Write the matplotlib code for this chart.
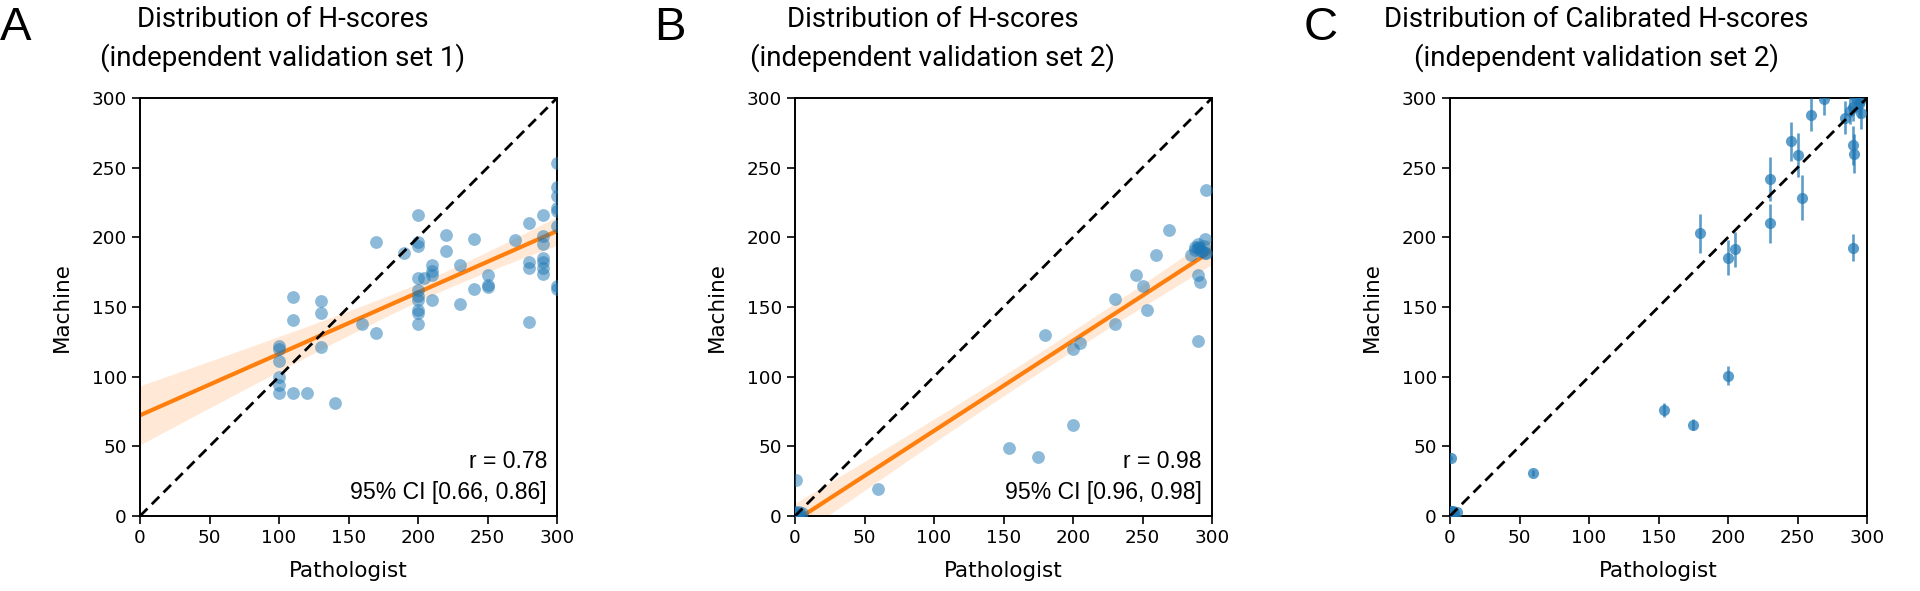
import numpy as np
import matplotlib
matplotlib.use("Agg")
import matplotlib.pyplot as plt

# ---------------- data ----------------
# Panel A: independent validation set 1
A_path = [300, 300, 300, 300, 300, 290, 280, 200, 220, 240, 270, 170, 200, 200,
          290, 290, 300, 220, 190, 230, 280, 280, 290, 290, 290, 290, 210, 210,
          210, 200, 204, 250, 250, 250, 240, 300, 300, 200, 200, 200, 210, 230,
          200, 200, 280, 200, 110, 130, 130, 110, 160, 170, 100, 100, 130, 100,
          100, 100, 100, 110, 120, 140]
A_mach = [253, 236, 230, 221, 219, 216, 210, 216, 202, 199, 198, 197, 197, 194,
          201, 195, 208, 190, 189, 180, 182, 178, 185, 182, 178, 174, 180, 176,
          173, 171, 171, 173, 166, 164, 163, 165, 163, 162, 158, 155, 155, 152,
          148, 146, 139, 138, 157, 154, 146, 141, 138, 131, 122, 120, 121, 111,
          100, 94, 88, 88, 88, 81]

# Panel B: independent validation set 2 (raw machine scores)
# (overlapping points in the dark clusters near the origin and the top right)
B_path = [296, 269, 295, 290, 288, 293, 296, 285, 260, 245, 250, 290, 291.6, 230,
          253, 230, 180, 205, 200, 290, 200, 154, 175, 60, 0.5, 1, 5, 2,
          0, 0, 1, 2, 3, 0, 1, 4, 290, 292, 294, 288, 295, 291]
B_mach = [234, 205, 199, 195, 193, 190, 189, 187, 187, 173, 165, 173, 168, 155.5,
          148, 137.5, 130, 124, 119.5, 125.5, 65, 49, 42, 19.4, 26, 3, 2.4, 1,
          0, 1, 2, 0, 3, 2, 1, 0, 192, 190, 194, 191, 189, 193]

# Panel C: independent validation set 2 (calibrated machine scores, with error)
C_path = [269, 260, 284, 288, 290, 294, 296, 295, 292, 245, 250, 290, 291, 230,
          253, 230, 180, 200, 205, 290, 200, 154, 175, 60, 0.5, 1, 5, 2.4,
          0, 1, 3, 2]
C_calib = [299.5, 288, 286, 291, 293.5, 296, 289, 298, 300, 269, 259, 266, 260, 242,
           228.5, 210, 203, 185.5, 191.5, 192.7, 100.8, 76, 65.5, 30.7, 41.5, 3.6, 3, 3,
           2, 3, 2.5, 3.5]
C_err = [12, 12, 12, 10, 10, 10, 11, 10, 10, 14, 15.6, 14, 14, 15.6,
         16, 14, 14, 12.6, 12.6, 9.6, 7, 5, 4, 2, 1.5, 1, 1, 1,
         1, 1, 1, 1]

panel_letters = ["A", "B", "C"]
title_line1 = ["Distribution of H-scores", "Distribution of H-scores",
               "Distribution of Calibrated H-scores"]
title_line2 = ["(independent validation set 1)", "(independent validation set 2)",
               "(independent validation set 2)"]
stats_text = [("r = 0.78", "95% CI [0.66, 0.86]"), ("r = 0.98", "95% CI [0.96, 0.98]"), None]
ticks = [0, 50, 100, 150, 200, 250, 300]

BLUE = "#1f77b4"
ORANGE = "#ff7f0e"
TXT_FONT = ["Liberation Sans", "DejaVu Sans"]
TITLE_FONT = ["Roboto", "Liberation Sans", "DejaVu Sans"]
TITLE_SIZE = 20

W, H = 1920, 591
fig = plt.figure(figsize=(W / 100, H / 100), dpi=100)

ax_left_px = [140, 795, 1450]
ax_top_px, ax_bot_px, ax_w_px = 98, 516, 417
title_cx = [283, 933, 1596]
letter_x = [0, 654, 1304]


def fit_band(x, y, grid):
    x = np.asarray(x, float)
    y = np.asarray(y, float)
    n = len(x)
    b, a = np.polyfit(x, y, 1)
    yhat = a + b * grid
    resid = y - (a + b * x)
    s = np.sqrt(np.sum(resid ** 2) / (n - 2))
    sxx = np.sum((x - x.mean()) ** 2)
    se = s * np.sqrt(1.0 / n + (grid - x.mean()) ** 2 / sxx)
    t = 2.0
    return yhat, yhat - t * se, yhat + t * se


axes = []
for i in range(3):
    ax = fig.add_axes([ax_left_px[i] / W, (H - ax_bot_px) / H,
                       ax_w_px / W, (ax_bot_px - ax_top_px) / H])
    axes.append(ax)
    ax.set_xlim(0, 300)
    ax.set_ylim(0, 300)
    ax.set_xticks(ticks)
    ax.set_yticks(ticks)
    ax.tick_params(labelsize=13.2, length=5.5, width=1.2, pad=4)
    for sp in ax.spines.values():
        sp.set_linewidth(1.4)
    ax.set_xlabel("Pathologist", fontsize=15.5, labelpad=10)
    ax.set_ylabel("Machine", fontsize=15.5, labelpad=14)
    ax.plot([0, 300], [0, 300], ls="--", color="black", lw=2.0, zorder=5,
            dashes=(3.8, 2.2))

    cx = title_cx[i]
    fig.text(cx / W, 1 - 27 / H, title_line1[i], ha="center", va="baseline",
             fontsize=TITLE_SIZE, family=TITLE_FONT)
    fig.text(cx / W, 1 - 66 / H, title_line2[i], ha="center", va="baseline",
             fontsize=TITLE_SIZE, family=TITLE_FONT)
    fig.text(letter_x[i] / W, 1 - 40 / H, panel_letters[i], ha="left", va="baseline",
             fontsize=34, family=TXT_FONT)

    if stats_text[i] is not None:
        ax.text(0.976, 0.115, stats_text[i][0], transform=ax.transAxes, ha="right",
                va="baseline", fontsize=16.6, family=TXT_FONT)
        ax.text(0.976, 0.041, stats_text[i][1], transform=ax.transAxes, ha="right",
                va="baseline", fontsize=16.6, family=TXT_FONT)

grid = np.linspace(0, 300, 200)
for ax, xs, ys in [(axes[0], A_path, A_mach), (axes[1], B_path, B_mach)]:
    yhat, lo, hi = fit_band(xs, ys, grid)
    ax.fill_between(grid, lo, hi, color=ORANGE, alpha=0.17, lw=0, zorder=1)
    ax.plot(grid, yhat, color=ORANGE, lw=3.0, zorder=2)
    ax.scatter(xs, ys, s=85, color=BLUE, alpha=0.5, linewidths=0, zorder=3,
               clip_on=True)

axes[2].errorbar(C_path, C_calib, yerr=C_err, fmt="o", color=BLUE, alpha=0.72,
                 markersize=8, elinewidth=1.9, capsize=0, markeredgewidth=0,
                 zorder=3)

fig.savefig("out.png", dpi=100)
